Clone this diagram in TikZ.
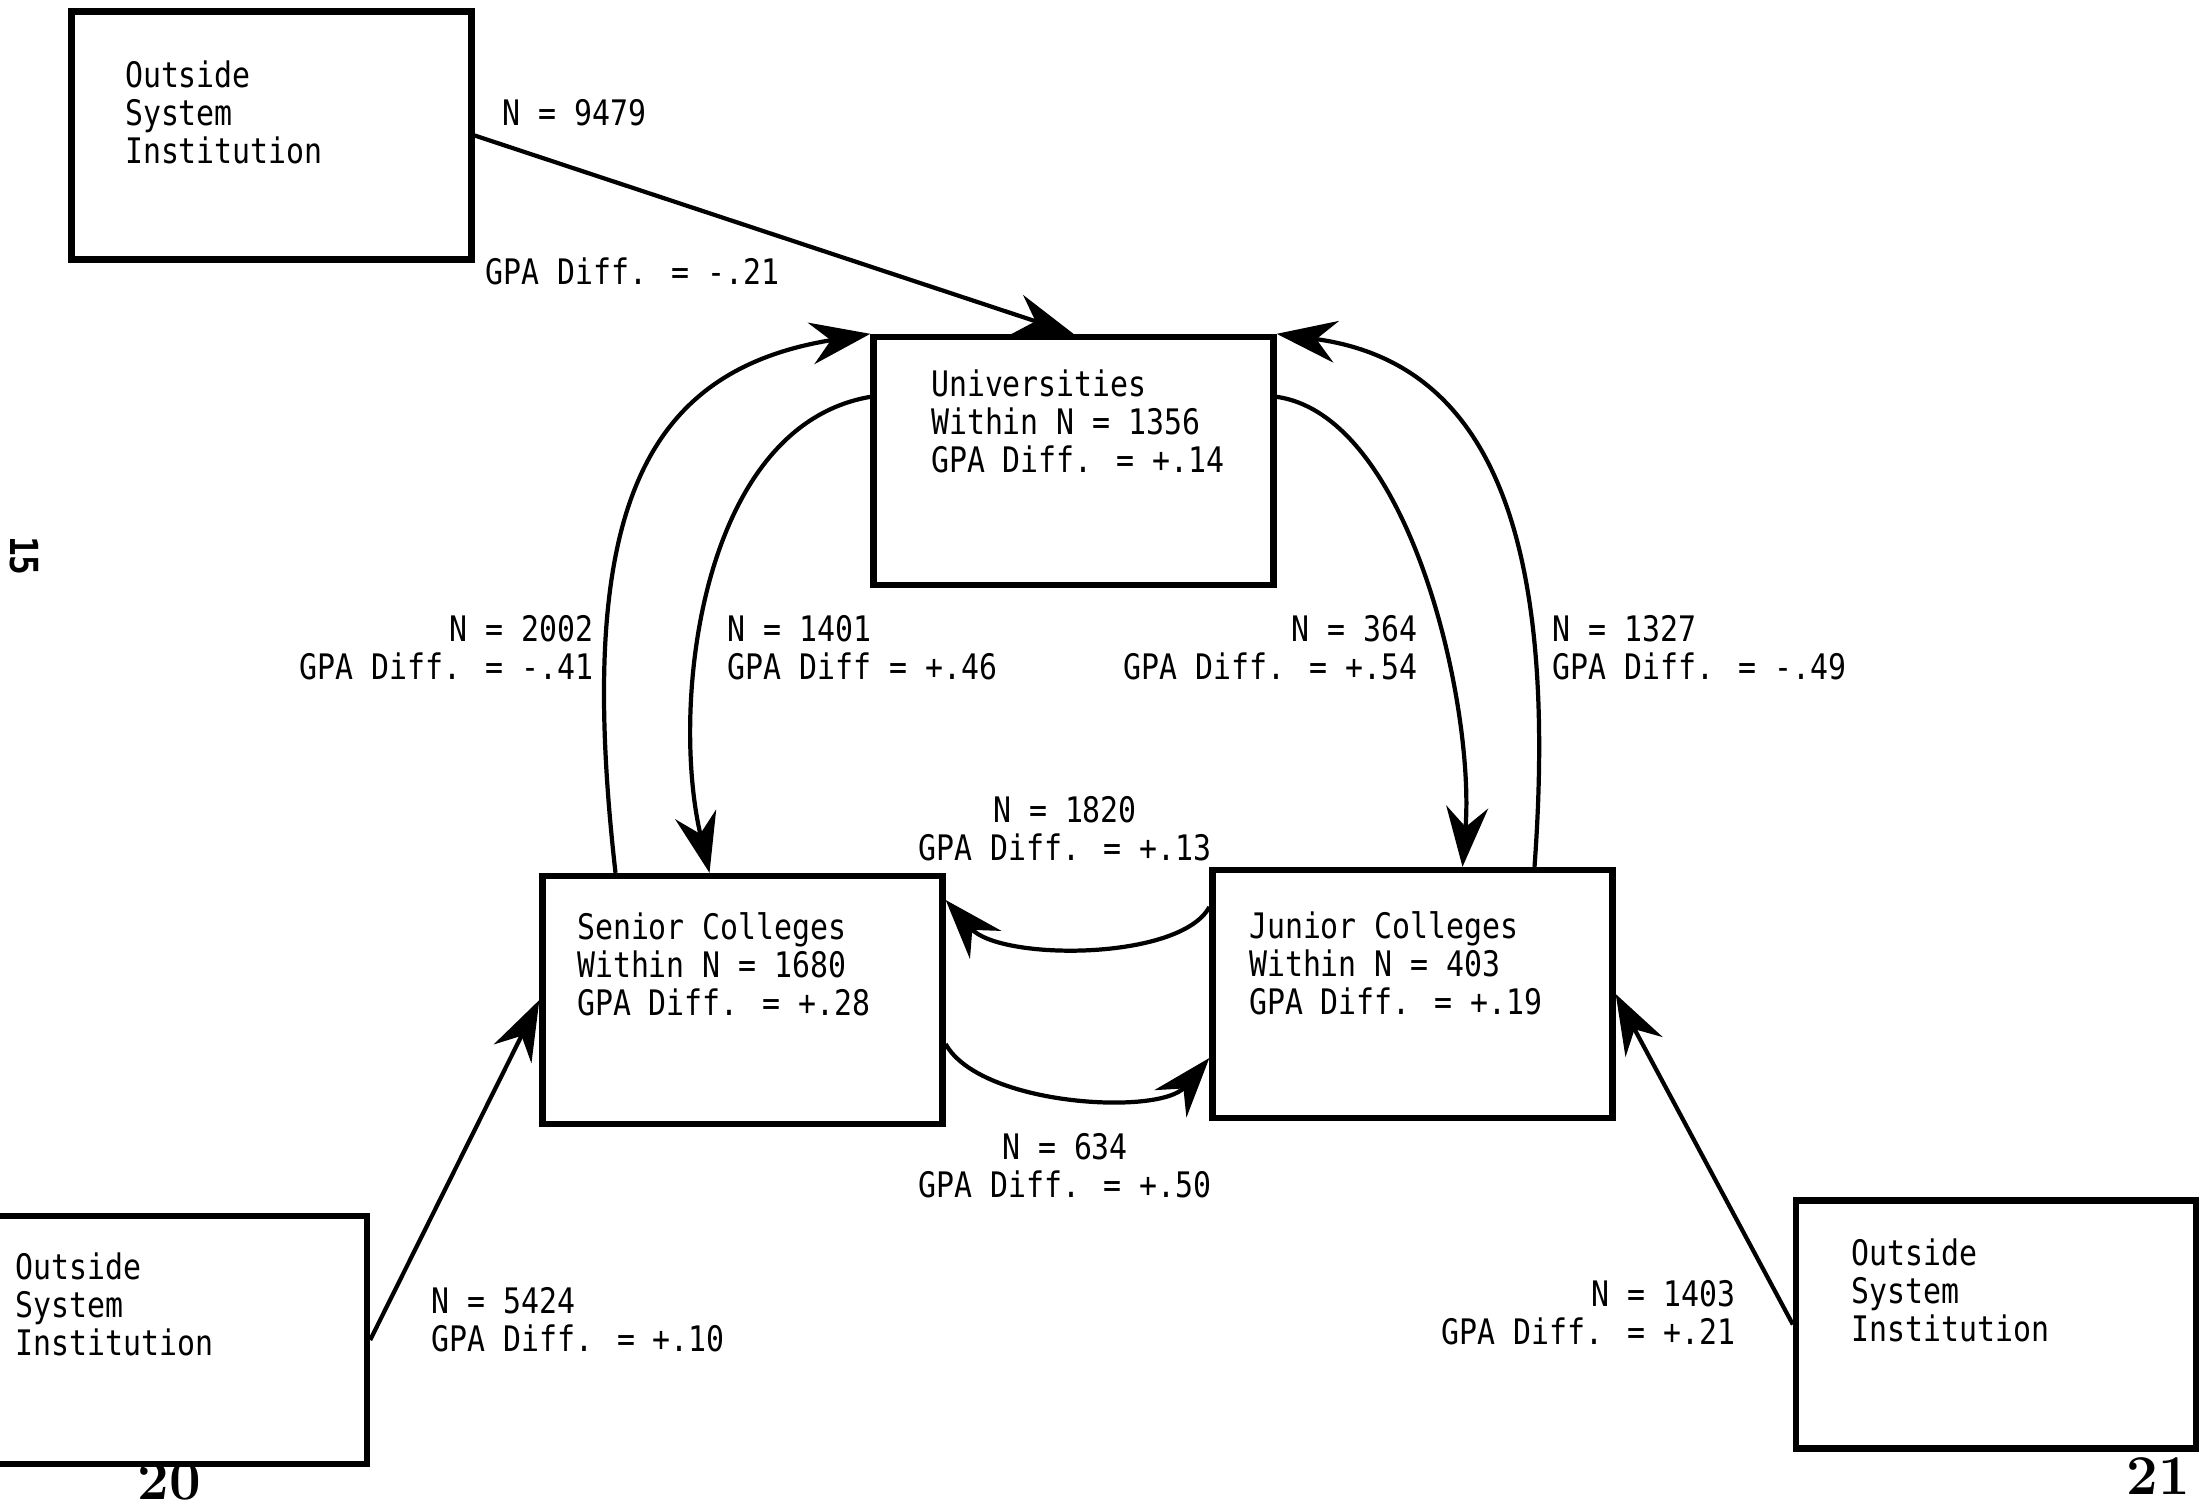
\documentclass[tikz,border=0pt]{standalone}
\usepackage{fontspec}
\newfontfamily\typefont[FakeStretch=0.85]{DejaVu Sans Mono}
\usetikzlibrary{positioning,arrows.meta}

\begin{document}
\begin{tikzpicture}[
  instbox/.style={draw, line width=1.8pt, minimum width=4cm, minimum height=2.48cm, inner sep=0pt},
  boxtext/.style={inner sep=0pt, align=left, font=\typefont\fontsize{10}{10.8}\selectfont},
  flow/.style={line width=1.2pt, -{Stealth[length=6mm,width=4.2mm,inset=2mm]}},
  flowlabel/.style={inner sep=0pt, font=\typefont\fontsize{10}{10.8}\selectfont}
]
\useasboundingbox (0,0) rectangle (22.06,15.06);
% Institution boxes
\node[instbox] (tl)  at (2.715,13.705) {};
\node[instbox] (uni) at (10.735,10.45) {};
\node[instbox] (sen) at (7.425,5.06) {};
\node[instbox] (jun) at (14.125,5.12) {};
\node[instbox] (bl)  at (1.67,1.66) {};
\node[instbox] (br)  at (19.96,1.815) {};
% Box texts
\node[boxtext, below right=0.52cm and 0.56cm of tl.north west]  (tltxt)  {Outside\\System\\Institution};
\node[boxtext, below right=0.35cm and 0.60cm of uni.north west] (unitxt) {Universities\\Within N = 1356\\GPA Diff. = +.14};
\node[boxtext, below right=0.39cm and 0.37cm of sen.north west] (sentxt) {Senior Colleges\\Within N = 1680\\GPA Diff. = +.28};
\node[boxtext, below right=0.44cm and 0.39cm of jun.north west] (juntxt) {Junior Colleges\\Within N = 403\\GPA Diff. = +.19};
\node[boxtext, below right=0.39cm and 0.51cm of bl.north west]  (bltxt)  {Outside\\System\\Institution};
\node[boxtext, below right=0.41cm and 0.58cm of br.north west]  (brtxt)  {Outside\\System\\Institution};
% Transfer arrows
\draw[flow] (tl.east) -- (uni.north);
\draw[flow] ([xshift=-1.27cm]sen.north) .. controls (5.75,9.9) and (6.4,11.35) .. (uni.north west);
\draw[flow] ([yshift=-0.63cm]uni.north west) .. controls (7.0,10.8) and (6.7,8.0) .. ([xshift=-0.33cm]sen.north);
\draw[flow] ([yshift=-0.63cm]uni.north east) .. controls (14.1,10.9) and (14.75,8.0) .. ([xshift=0.5cm]jun.north);
\draw[flow] ([xshift=1.22cm]jun.north) .. controls (15.6,9.9) and (14.8,11.45) .. (uni.north east);
\draw[flow] ([yshift=0.87cm]jun.west) .. controls (11.8,5.45) and (10.0,5.45) .. ([yshift=1cm]sen.east);
\draw[flow] ([yshift=-0.44cm]sen.east) .. controls (9.8,4.0) and (11.6,3.9) .. ([yshift=-0.64cm]jun.west);
\draw[flow] (bl.east) -- (sen.west);
\draw[flow] (br.west) -- (jun.east);
% Flow labels
\node[flowlabel, anchor=west] (n9479) at (5.02,13.93) {N = 9479};
\node[flowlabel, anchor=west] (g9479) at (4.85,12.345) {GPA Diff. = -.21};
\node[flowlabel, align=right, anchor=east] (l2002) at (5.94,8.58) {N = 2002\\GPA Diff. = -.41};
\node[flowlabel, align=left, anchor=west] (l1401) at (7.27,8.58) {N = 1401\\GPA Diff = +.46};
\node[flowlabel, align=right, anchor=east] (l364) at (14.18,8.58) {N = 364\\GPA Diff. = +.54};
\node[flowlabel, align=left, anchor=west] (l1327) at (15.52,8.58) {N = 1327\\GPA Diff. = -.49};
\node[flowlabel, align=center] (l1820) at (10.65,6.77) {N = 1820\\GPA Diff. = +.13};
\node[flowlabel, align=center] (l634) at (10.65,3.40) {N = 634\\GPA Diff. = +.50};
\node[flowlabel, align=left, anchor=west] (l5424) at (4.305,1.86) {N = 5424\\GPA Diff. = +.10};
\node[flowlabel, align=right, anchor=east] (l1403) at (17.36,1.93) {N = 1403\\GPA Diff. = +.21};
% Page marks
\node[inner sep=0pt, anchor=north, font=\fontsize{16}{18}\selectfont\bfseries] (pg20) at (1.69,0.44) {20};
\node[inner sep=0pt, anchor=north, font=\fontsize{16}{18}\selectfont\bfseries] (pg21) at (21.58,0.49) {21};
\node[inner sep=0pt, rotate=-90, font=\typefont\bfseries\fontsize{11}{12}\selectfont] (pg15) at (0.24,9.50) {15};
\end{tikzpicture}
\end{document}
